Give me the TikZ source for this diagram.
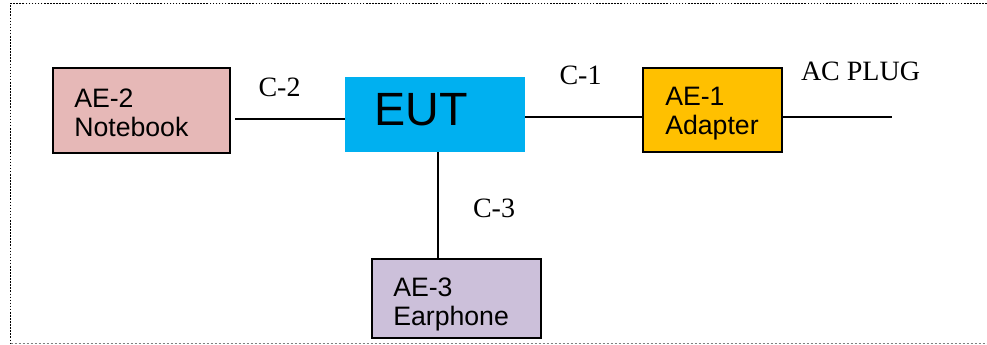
\documentclass[tikz,border=0pt]{standalone}
\usepackage{fontspec}
\setmainfont{Liberation Serif}
\newfontfamily\arialf{Liberation Sans}
\begin{document}
\begin{tikzpicture}[x=0.75pt,y=-0.75pt,
  box/.style={draw=black,line width=1.5pt,minimum width=#1,inner sep=0pt},
  boxtext/.style={anchor=north west,inner sep=0pt,align=left,font=\arialf\fontsize{20pt}{21.75pt}\selectfont},
  clabel/.style={anchor=base,inner sep=0pt,font=\fontsize{21pt}{24pt}\selectfont},
  wire/.style={draw=black,line width=1.1pt}]
\useasboundingbox (0,0) rectangle (987,345);
% border
\draw[black,line width=1.4pt,dash pattern=on 1.2pt off 1.1pt] (987,3.5) -- (10.5,3.5) -- (10.5,343.5);
\draw[gray,line width=0.8pt,dash pattern=on 2.2pt off 0.8pt] (10.5,343.5) -- (987,343.5);
% boxes
\definecolor{notebookc}{HTML}{E6B8B7}
\definecolor{eutc}{HTML}{00B0F0}
\definecolor{adapterc}{HTML}{FFC000}
\definecolor{earphonec}{HTML}{CCC0DA}
\node[box=132.75pt,minimum height=63.75pt,fill=notebookc] (ae2) at (141.5,110.5) {};
\node[draw=none,fill=eutc,minimum width=135pt,minimum height=56.25pt,inner sep=0pt] (eut) at (435,114.5) {};
\node[box=104.25pt,minimum height=63pt,fill=adapterc] (ae1) at (712.5,110) {};
\node[box=126.75pt,minimum height=59.25pt,fill=earphonec] (ae3) at (456.5,298.5) {};
% box texts
\node[boxtext] (t2) at (74,88.5) {AE-2\\Notebook};
\node[boxtext] (t1) at (665,87) {AE-1\\Adapter};
\node[boxtext] (t3) at (393,278) {AE-3\\Earphone};
\node[anchor=base west,inner sep=0pt,font=\arialf\fontsize{35pt}{40pt}\selectfont] (teut) at (374,126) {EUT};
% labels
\node[clabel] (lc2) at (279.5,97) {C-2};
\node[clabel] (lc1) at (580.5,85) {C-1};
\node[clabel] (lc3) at (494,218) {C-3};
\node[clabel] (lac) at (860.5,81) {AC PLUG};
% connectors
\coordinate (acend) at (892,117);
\draw[wire] ([xshift=3pt]ae2.east |- 0,119) -- (eut.west |- 0,119);
\draw[wire] (eut.east |- 0,117) -- (ae1.west |- 0,117);
\draw[wire] (ae1.east |- 0,117) -- (acend);
\draw[wire] (eut.south -| 438,0) -- (ae3.north -| 438,0);
\end{tikzpicture}
\end{document}
